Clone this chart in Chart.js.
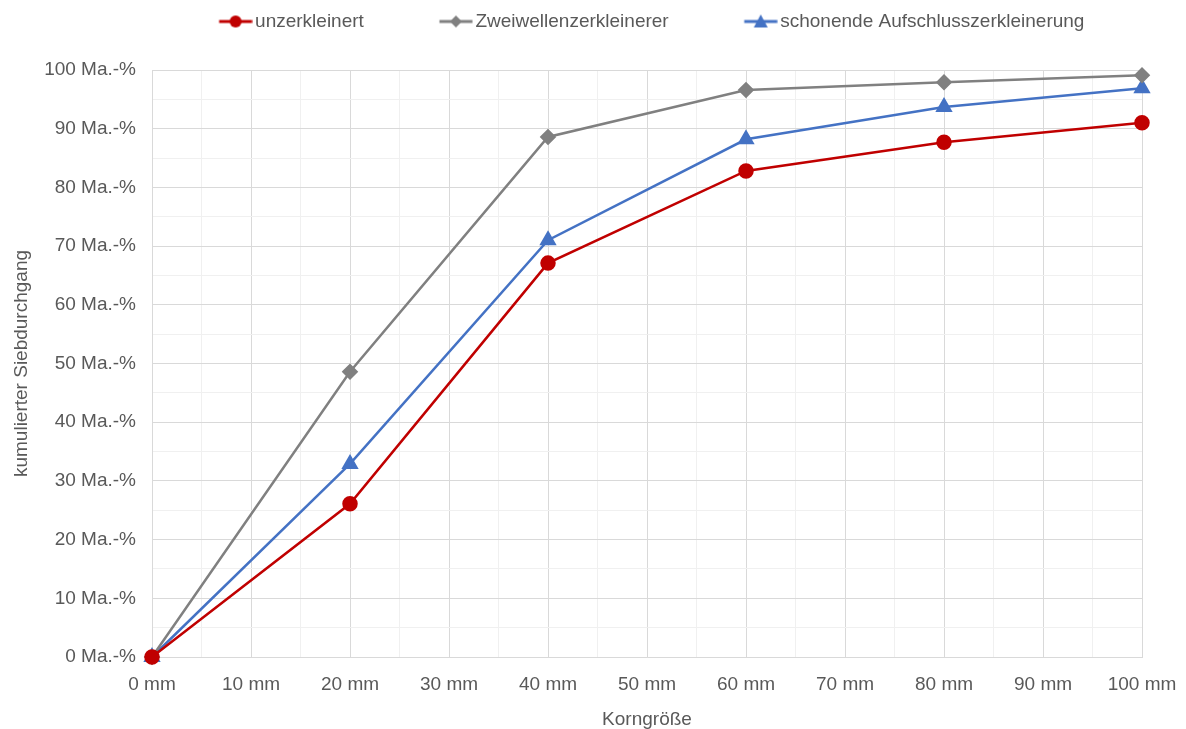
<!DOCTYPE html>
<html>
<head>
<meta charset="utf-8">
<script src="https://cdn.jsdelivr.net/npm/chart.js@4/dist/chart.umd.min.js"></script>
<style>
  html, body { margin: 0; padding: 0; background: #fff; }
  #wrap { width: 1186px; height: 729px; }
</style>
</head>
<body>
<div id="wrap"><canvas id="chart"></canvas></div>
<script>
const sizes = [0, 20, 40, 60, 80, 100];
const unzerkleinert = [0, 26.1, 67.1, 82.8, 87.7, 91.0];
const zweiwellen = [0, 48.6, 88.6, 96.6, 97.9, 99.1];
const schonend = [0, 32.9, 71.0, 88.2, 93.7, 96.9];

const seriesNames = ['unzerkleinert', 'Zweiwellenzerkleinerer', 'schonende Aufschlusszerkleinerung'];
const seriesColors = ['#C00000', '#808080', '#4472C4'];
const seriesMarkers = ['circle', 'rectRot', 'triangle'];

const font = "'Liberation Sans', Arial, sans-serif";
const grey = '#595959';

// legend icon: short line with the marker on it
function legendIcon(color, marker) {
    const c = document.createElement('canvas');
    c.width = 48; c.height = 18;
    const ctx = c.getContext('2d');
    ctx.strokeStyle = color;
    ctx.lineWidth = 3;
    ctx.beginPath();
    ctx.moveTo(14.5, 9); ctx.lineTo(47.5, 9);
    ctx.stroke();
    ctx.fillStyle = color;
    ctx.beginPath();
    const cx = 31;
    if (marker === 'circle') {
        ctx.arc(cx, 9, 6, 0, Math.PI * 2);
    } else if (marker === 'rectRot') {
        ctx.moveTo(cx, 3); ctx.lineTo(cx + 6, 9); ctx.lineTo(cx, 15); ctx.lineTo(cx - 6, 9);
    } else {
        ctx.moveTo(cx, 2); ctx.lineTo(cx + 7, 15); ctx.lineTo(cx - 7, 15);
    }
    ctx.closePath();
    ctx.fill();
    return c;
}

const allSeries = [unzerkleinert, zweiwellen, schonend];
const gap = '           ';

const legendTweak = {
    id: 'legendTweak',
    beforeUpdate(chart) {
        const lg = chart.legend;
        if (lg && !lg._patched) {
            const fit = lg.fit;
            lg.fit = function () { fit.call(this); this.height += 29; };
            lg._patched = true;
        }
    },
    afterLayout(chart) {
        const lg = chart.legend;
        lg.left += 74;
        lg.right += 74;
    }
};

new Chart(document.getElementById('chart').getContext('2d'), {
    type: 'line',
    data: {
        datasets: allSeries.map((vals, i) => ({
            label: seriesNames[i],
            data: sizes.map((x, j) => ({ x: x, y: vals[j] })),
            borderColor: seriesColors[i],
            backgroundColor: seriesColors[i],
            borderWidth: 2.5,
            pointStyle: seriesMarkers[i],
            pointRadius: i === 2 ? 7.5 : 6.5,
            pointHoverRadius: 6,
            tension: 0,
            clip: false
        }))
    },
    plugins: [legendTweak],
    options: {
        responsive: true,
        maintainAspectRatio: false,
        animation: false,
        layout: { padding: { left: 6, right: 44, top: 2, bottom: 0 } },
        plugins: {
            tooltip: { enabled: false },
            legend: {
                position: 'top',
                labels: {
                    usePointStyle: true,
                    pointStyleWidth: 34,
                    padding: 10,
                    color: grey,
                    font: { family: font, size: 19 },
                    generateLabels: chart => chart.data.datasets.map((ds, i) => ({
                        text: i < 2 ? ds.label + gap : ds.label,
                        fontColor: grey,
                        pointStyle: legendIcon(seriesColors[i], seriesMarkers[i]),
                        datasetIndex: i,
                        lineWidth: 0,
                        strokeStyle: 'transparent',
                        fillStyle: 'transparent'
                    }))
                }
            }
        },
        scales: {
            x: {
                type: 'linear',
                min: 0, max: 100,
                ticks: {
                    stepSize: 5,
                    autoSkip: false,
                    maxRotation: 0,
                    padding: 16,
                    color: grey,
                    font: { family: font, size: 19 },
                    callback: v => v % 10 === 0 ? v + ' mm' : ''
                },
                grid: {
                    color: ctx => ctx.tick && ctx.tick.value % 10 === 0 ? '#d9d9d9' : '#f0f0f0',
                    lineWidth: 1,
                    drawTicks: false
                },
                border: { color: '#d9d9d9' },
                title: {
                    display: true,
                    text: 'Korngröße',
                    color: grey,
                    font: { family: font, size: 19 },
                    padding: { top: 10, bottom: -2 }
                },
                afterFit: scale => {
                    scale.height = 72;
                    scale.paddingLeft = 0;
                    scale.paddingRight = 0;
                }
            },
            y: {
                min: 0, max: 100,
                ticks: {
                    stepSize: 5,
                    autoSkip: false,
                    color: grey,
                    padding: 16,
                    font: { family: font, size: 19 },
                    callback: v => v % 10 === 0 ? v + ' Ma.-%' : ''
                },
                grid: {
                    color: ctx => ctx.tick && ctx.tick.value % 10 === 0 ? '#d9d9d9' : '#f0f0f0',
                    lineWidth: 1,
                    drawTicks: false
                },
                border: { color: '#d9d9d9' },
                title: {
                    display: true,
                    text: 'kumulierter Siebdurchgang',
                    color: grey,
                    font: { family: font, size: 19 }
                },
                afterFit: scale => { scale.width = 146; }
            }
        }
    }
});
</script>
</body>
</html>
